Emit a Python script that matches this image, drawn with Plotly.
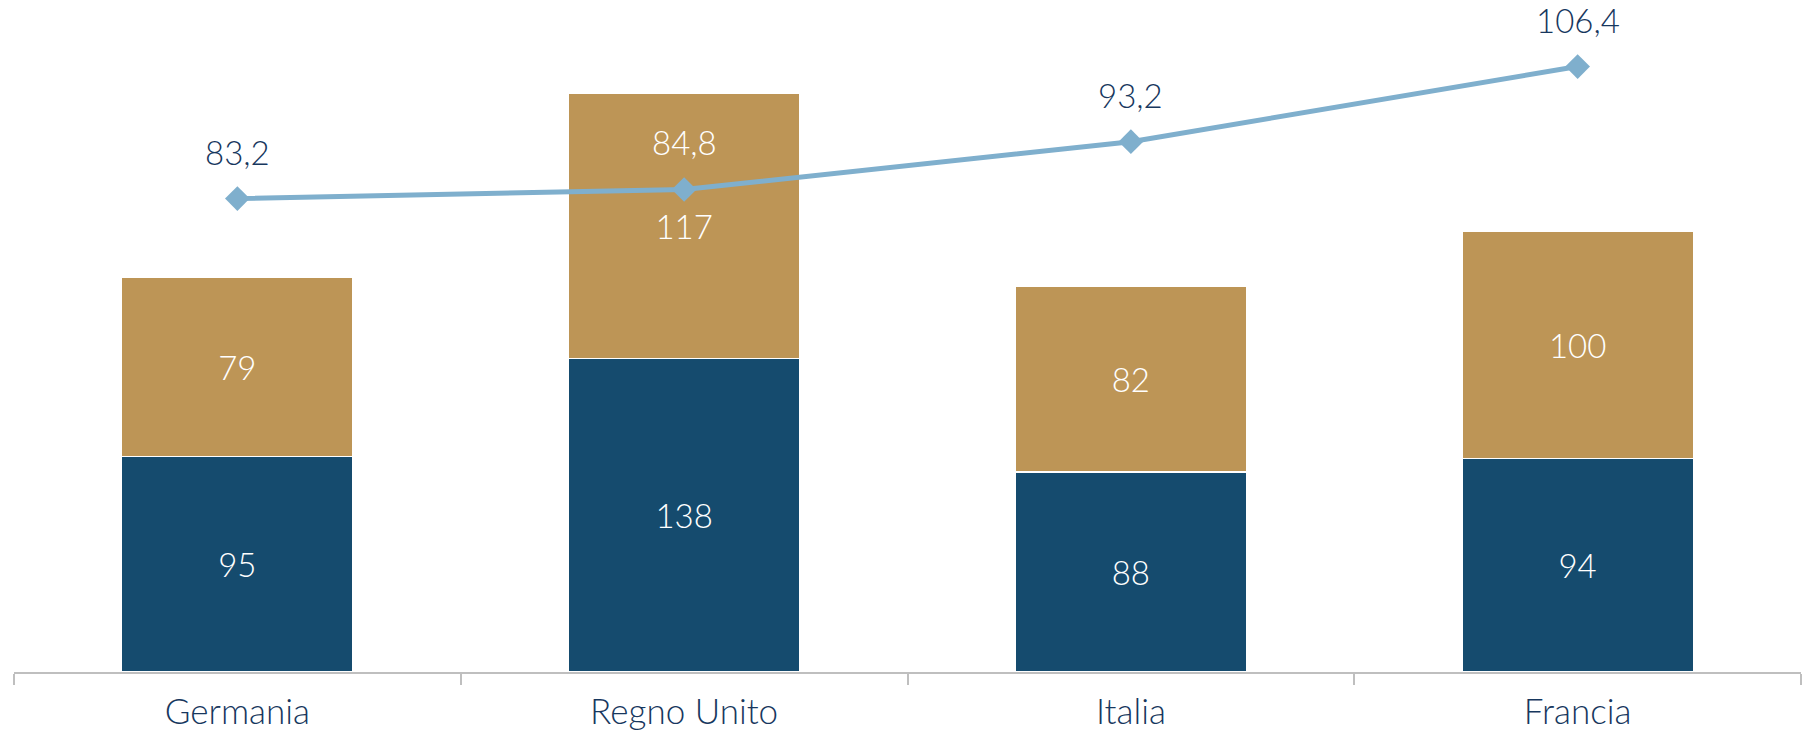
import plotly.graph_objects as go

# Categories and values
paesi = ["Germania", "Regno Unito", "Italia", "Francia"]
serie_blu = [95, 138, 88, 94]
serie_oro = [79, 117, 82, 100]
linea = [83.2, 84.8, 93.2, 106.4]

BLU = "#154B6E"
ORO = "#BD9556"
AZZURRO = "#7FAFCD"
TESTO = "#17375E"
FONT = "Lato"

# Line labels: white where the label sits over a bar, navy elsewhere
colori_etichette = [TESTO, "white", TESTO, TESTO]

fig = go.Figure()

fig.add_trace(go.Bar(
    x=paesi, y=serie_blu, name="blu",
    marker=dict(color=BLU, line=dict(color="white", width=1.5)),
    text=[str(v) for v in serie_blu], textposition="inside",
    insidetextanchor="middle", textangle=0,
    textfont=dict(color="white", size=33, family=FONT, weight=300),
))
fig.add_trace(go.Bar(
    x=paesi, y=serie_oro, name="oro",
    marker=dict(color=ORO, line=dict(color="white", width=1.5)),
    text=[str(v) for v in serie_oro], textposition="inside",
    insidetextanchor="middle", textangle=0,
    textfont=dict(color="white", size=33, family=FONT, weight=300),
))
fig.add_trace(go.Scatter(
    x=paesi, y=linea, yaxis="y2", mode="lines+markers",
    line=dict(color=AZZURRO, width=5),
    marker=dict(symbol="diamond", size=19, color=AZZURRO),
))

# Labels above the line points (Italian decimal comma)
for p, v, c in zip(paesi, linea, colori_etichette):
    fig.add_annotation(
        x=p, y=v, xref="x", yref="y2", yshift=47,
        text=f"{v:.1f}".replace(".", ","), showarrow=False,
        font=dict(color=c, size=33, family=FONT, weight=300),
    )

fig.update_layout(
    width=1815, height=733,
    margin=dict(l=14, r=14, t=0, b=61, autoexpand=False),
    barmode="stack", bargap=0.482,
    plot_bgcolor="white", paper_bgcolor="white",
    showlegend=False,
    font=dict(family=FONT, color=TESTO),
    xaxis=dict(
        showline=True, linecolor="#BFBFBF", linewidth=2,
        ticks="outside", tickson="boundaries", ticklen=11,
        tickcolor="#BFBFBF", tickwidth=2,
        tickfont=dict(size=35, color=TESTO, family=FONT, weight=300),
        ticklabelstandoff=8, showgrid=False, automargin=False,
    ),
    yaxis=dict(range=[0, 296], visible=False, showgrid=False),
    yaxis2=dict(range=[0, 118.1], overlaying="y", side="right",
                visible=False, showgrid=False),
)

fig.write_html("out.html")
